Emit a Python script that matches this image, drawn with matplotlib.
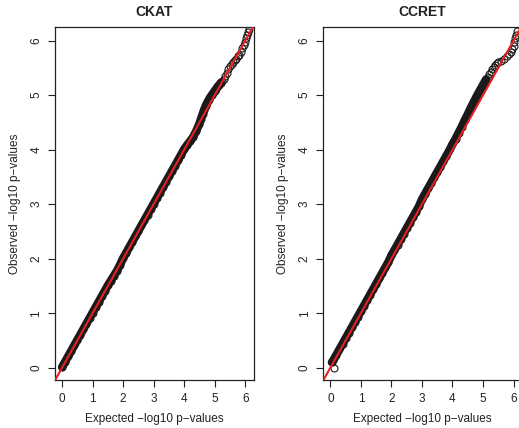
import numpy as np
import matplotlib.pyplot as plt

plt.rcParams['font.family'] = ['Liberation Sans', 'DejaVu Sans']

# CKAT: expected vs observed -log10 p (dense body, then sparse tail)
ckat_body_exp = [0.00, 0.10, 0.20, 0.30, 0.40, 0.50, 0.60, 0.70, 0.80, 0.90,
                 1.00, 1.10, 1.20, 1.30, 1.40, 1.50, 1.60, 1.70, 1.80, 1.90,
                 2.00, 2.10, 2.20, 2.30, 2.40, 2.50, 2.60, 2.70, 2.80, 2.90,
                 3.00, 3.10, 3.20, 3.30, 3.40, 3.50, 3.60, 3.70, 3.80, 3.90,
                 4.00, 4.10, 4.20, 4.30, 4.40, 4.50, 4.55, 4.60, 4.65, 4.70,
                 4.75, 4.80, 4.85, 4.90, 4.95, 5.00, 5.05, 5.10, 5.15, 5.20]
ckat_body_obs = [0.01, 0.11, 0.21, 0.31, 0.41, 0.51, 0.61, 0.71, 0.81, 0.91,
                 1.01, 1.11, 1.21, 1.31, 1.41, 1.51, 1.60, 1.69, 1.78, 1.89,
                 2.01, 2.11, 2.21, 2.31, 2.41, 2.51, 2.61, 2.71, 2.81, 2.91,
                 3.01, 3.11, 3.21, 3.31, 3.41, 3.51, 3.61, 3.71, 3.81, 3.91,
                 4.01, 4.09, 4.16, 4.24, 4.35, 4.48, 4.57, 4.65, 4.73, 4.80,
                 4.86, 4.91, 4.96, 5.00, 5.04, 5.08, 5.12, 5.16, 5.19, 5.23]
ckat_tail_exp = [5.25, 5.30, 5.35, 5.40, 5.45, 5.50, 5.55, 5.60, 5.65, 5.70,
                 5.75, 5.80, 5.85, 5.90, 5.95, 6.00, 6.03, 6.06, 6.10, 6.13]
ckat_tail_obs = [5.26, 5.30, 5.35, 5.41, 5.48, 5.53, 5.58, 5.61, 5.64, 5.67,
                 5.71, 5.74, 5.79, 5.86, 5.92, 5.98, 6.05, 6.10, 6.16, 6.22]

# CCRET
ccret_body_exp = [0.05, 0.10, 0.20, 0.30, 0.40, 0.50, 0.60, 0.70, 0.80, 0.90,
                  1.00, 1.10, 1.20, 1.30, 1.40, 1.50, 1.60, 1.70, 1.80, 1.90,
                  2.00, 2.10, 2.20, 2.30, 2.40, 2.50, 2.60, 2.70, 2.80, 2.90,
                  3.00, 3.10, 3.20, 3.30, 3.40, 3.50, 3.60, 3.70, 3.80, 3.90,
                  4.00, 4.10, 4.20, 4.30, 4.40, 4.50, 4.60, 4.70, 4.80, 4.90,
                  5.00, 5.05, 5.10]
ccret_body_obs = [0.10, 0.14, 0.24, 0.34, 0.44, 0.54, 0.64, 0.74, 0.84, 0.94,
                  1.04, 1.14, 1.24, 1.34, 1.44, 1.54, 1.64, 1.74, 1.84, 1.94,
                  2.06, 2.16, 2.26, 2.36, 2.46, 2.56, 2.66, 2.76, 2.86, 2.96,
                  3.09, 3.19, 3.29, 3.39, 3.49, 3.59, 3.69, 3.79, 3.89, 3.99,
                  4.10, 4.20, 4.31, 4.42, 4.54, 4.65, 4.77, 4.88, 4.99, 5.09,
                  5.19, 5.24, 5.29]
ccret_tail_exp = [0.12, 5.15, 5.20, 5.25, 5.30, 5.35, 5.40, 5.45, 5.50, 5.60,
                  5.70, 5.80, 5.85, 5.90, 5.95, 6.00, 6.03, 6.06, 6.09, 6.12]
ccret_tail_obs = [0.00, 5.34, 5.38, 5.43, 5.48, 5.52, 5.56, 5.59, 5.61, 5.63,
                  5.67, 5.71, 5.75, 5.80, 5.85, 5.91, 5.98, 6.05, 6.11, 6.17]

panels = [
    ('CKAT', ckat_body_exp, ckat_body_obs, ckat_tail_exp, ckat_tail_obs),
    ('CCRET', ccret_body_exp, ccret_body_obs, ccret_tail_exp, ccret_tail_obs),
]

ink = '#222222'
fig = plt.figure(figsize=(5.19, 4.28), dpi=100)
lefts = [55/519, 323.3/519]
w = 198.5/519
b = 47.7/428
h = 353/428

for (title, bx, by, tx, ty), left in zip(panels, lefts):
    ax = fig.add_axes([left, b, w, h])
    # dense band of overlapping points
    ax.plot(bx, by, color='#1a1a1a', lw=6, solid_capstyle='round', zorder=2)
    ax.plot(bx, by, 'o', mfc='none', mec='#1a1a1a', ms=5, mew=0.8, zorder=2)
    ax.plot(tx, ty, 'o', mfc='none', mec='#1a1a1a', ms=5, mew=0.8, zorder=2)
    ax.axline((0, 0), slope=1, color='#e82020', lw=1.5, zorder=3)
    ax.set_xlim(-0.23, 6.27)
    ax.set_ylim(-0.23, 6.245)
    ax.set_xticks(range(7))
    ax.set_yticks(range(7))
    ax.tick_params(direction='out', length=5, width=0.8, colors=ink,
                   labelsize=8.5, pad=4)
    for lab in ax.get_yticklabels():
        lab.set_rotation(90)
        lab.set_va('center')
    for s in ax.spines.values():
        s.set_color(ink)
        s.set_linewidth(0.9)
    ax.set_title(title, fontsize=10, fontweight='bold', color=ink, pad=8)
    ax.set_xlabel('Expected \u2212log10 p\u2212values', fontsize=8.5, color=ink,
                  labelpad=6)
    ax.set_ylabel('Observed \u2212log10 p\u2212values', fontsize=8.5, color=ink,
                  labelpad=7)

fig.savefig('out.png', dpi=100)
